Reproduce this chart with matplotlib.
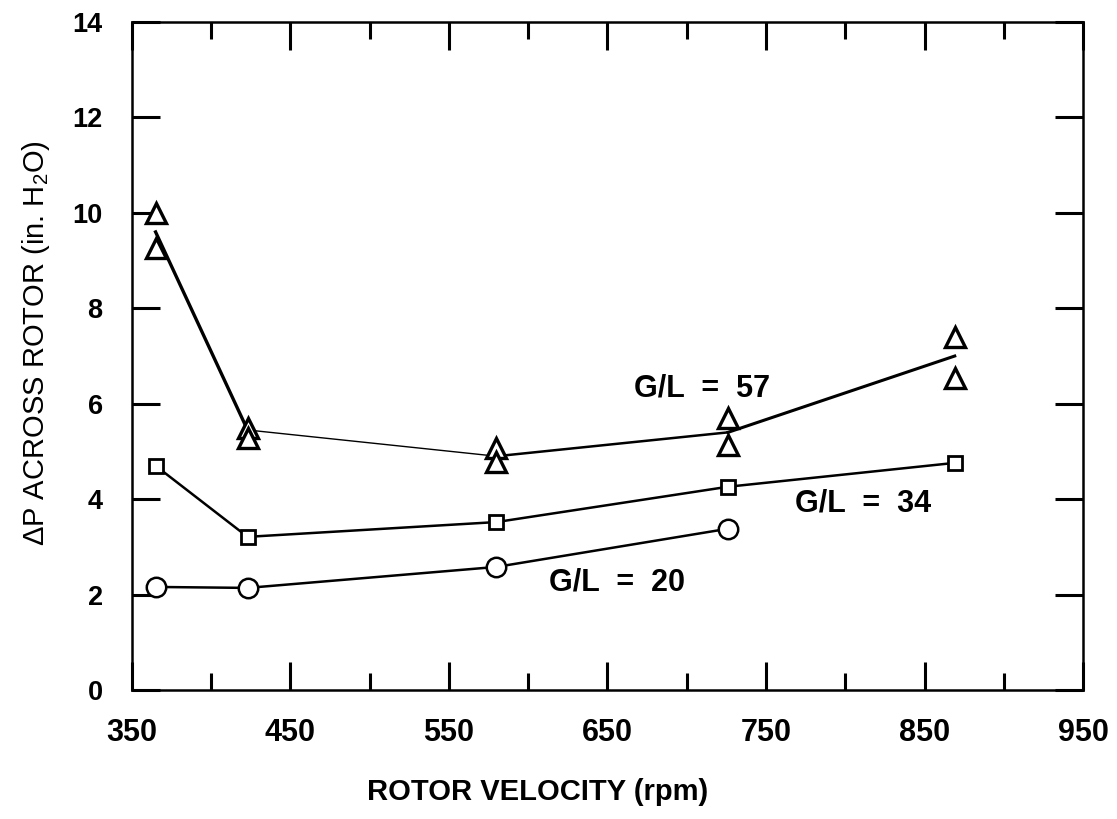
import matplotlib.pyplot as plt

plt.rcParams['font.family'] = ['Liberation Sans', 'DejaVu Sans']
plt.rcParams['mathtext.fontset'] = 'custom'
plt.rcParams['mathtext.rm'] = 'Liberation Sans'

# rotor speed (rpm) for each test point
rpm = [365, 423, 580, 726, 869]

# G/L = 57, two runs at each speed, plus the line drawn through them
gl57_hi = [10.0, 5.5, 5.07, 5.7, 7.4]
gl57_lo = [9.27, 5.28, 4.78, 5.14, 6.54]
gl57_line = [9.6, 5.45, 4.9, 5.4, 7.0]

# G/L = 34 and G/L = 20
gl34 = [4.7, 3.21, 3.52, 4.26, 4.76]
gl20 = [2.16, 2.14, 2.58, 3.38]

x_ticks = [350, 450, 550, 650, 750, 850, 950]
y_ticks = [0, 2, 4, 6, 8, 10, 12, 14]

fig = plt.figure(figsize=(11.17, 8.19), dpi=100)
ax = fig.add_axes([0.118, 0.1575, 0.8517, 0.8156])

# hand drawn line for G/L = 57 has a different pen weight per segment
seg_w = [2.4, 1.0, 1.8, 2.2]
for i in range(len(rpm) - 1):
    ax.plot(rpm[i:i + 2], gl57_line[i:i + 2], c='black', lw=seg_w[i], zorder=2)

ax.plot(rpm, gl34, c='black', lw=1.8, zorder=2)
ax.plot(rpm[:len(gl20)], gl20, c='black', lw=1.8, zorder=2)

ax.plot(rpm, gl57_hi, ls='none', marker='^', ms=15, mfc='white', mec='black', mew=2.4, zorder=3)
ax.plot(rpm, gl57_lo, ls='none', marker='^', ms=15, mfc='white', mec='black', mew=2.4, zorder=3)
ax.plot(rpm, gl34, ls='none', marker='s', ms=10.5, mfc='white', mec='black', mew=2.0, zorder=3)
ax.plot(rpm[:len(gl20)], gl20, ls='none', marker='o', ms=14, mfc='white', mec='black', mew=1.8, zorder=3)

ax.text(667, 6.16, 'G/L  =  57', fontsize=22, fontweight='bold', va='baseline')
ax.text(768, 3.75, 'G/L  =  34', fontsize=22, fontweight='bold', va='baseline')
ax.text(613, 2.08, 'G/L  =  20', fontsize=22, fontweight='bold', va='baseline')

ax.set_xlim(350, 950)
ax.set_ylim(0, 14)
ax.set_xticks(x_ticks)
ax.set_xticks(range(400, 950, 100), minor=True)
ax.set_yticks(y_ticks)
ax.tick_params(axis='both', which='major', direction='in', length=20, width=2.2,
               top=True, right=True)
ax.tick_params(axis='x', which='major', labelsize=22, pad=20)
ax.tick_params(axis='y', which='major', labelsize=19.5, pad=21)
ax.tick_params(axis='x', which='minor', direction='in', length=12, width=2.2, top=True)
for lab in ax.get_xticklabels() + ax.get_yticklabels():
    lab.set_fontweight('bold')
for s in ax.spines.values():
    s.set_linewidth(1.8)

ax.set_xlabel('ROTOR VELOCITY (rpm)', fontsize=21, fontweight='bold')
ax.set_ylabel('ΔP ACROSS ROTOR (in. H$_\\mathregular{2}$O)', fontsize=21)
ax.xaxis.set_label_coords(0.427, -0.132)
ax.yaxis.set_label_coords(-0.084, 0.52)

plt.savefig('out.png', format='png')
